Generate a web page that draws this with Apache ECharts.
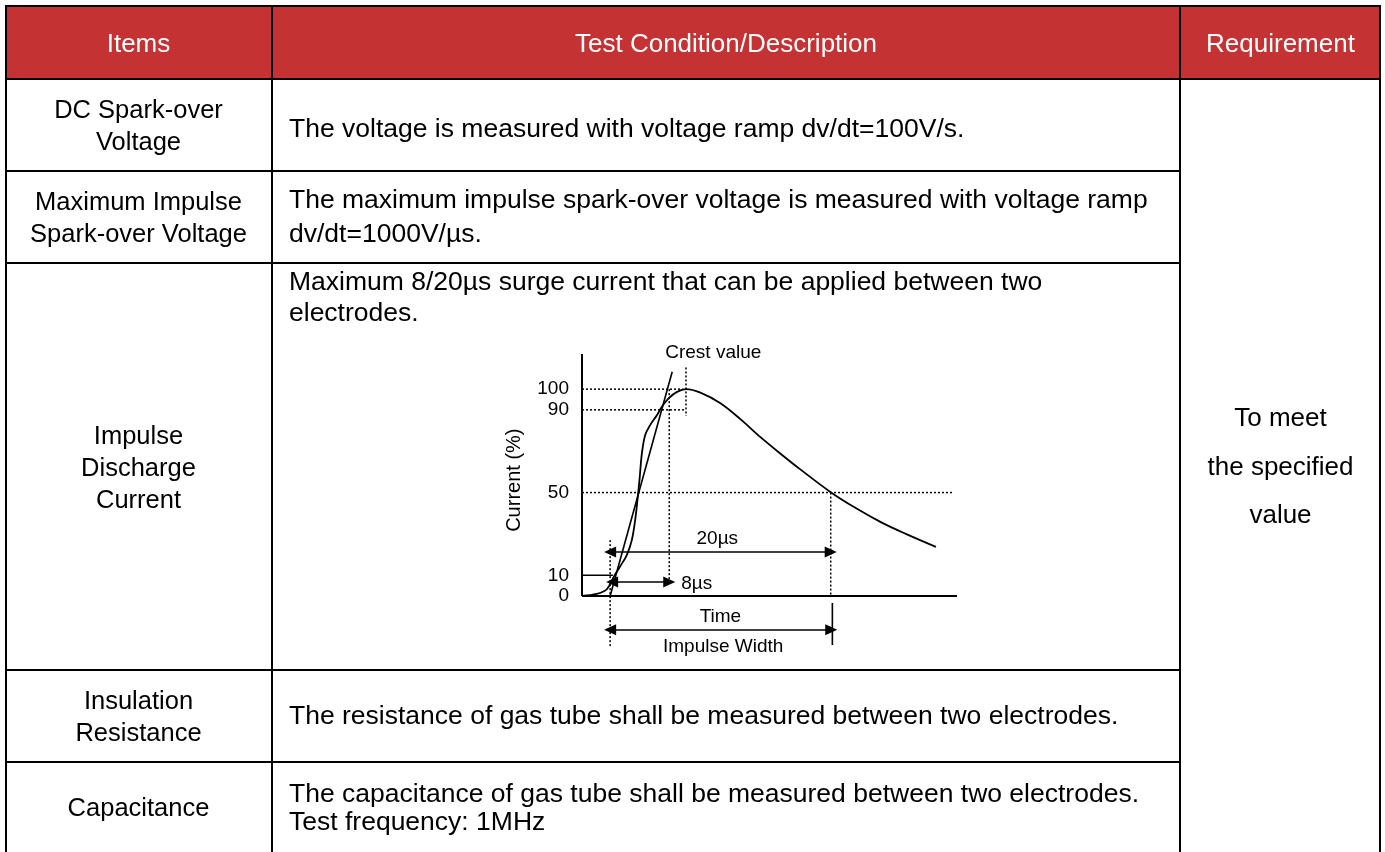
<!DOCTYPE html>
<html><head><meta charset="utf-8">
<script src="https://cdn.jsdelivr.net/npm/echarts@6/dist/echarts.min.js"></script>
<style>html,body{margin:0;padding:0;background:#fff}#c{width:1385px;height:852px}</style>
</head><body><div id="c"></div>
<script>
// ---- table content ----
const headers = ['Items', 'Test Condition/Description', 'Requirement'];
const itemLines = [
  ['DC Spark-over', 'Voltage'],
  ['Maximum Impulse', 'Spark-over Voltage'],
  ['Impulse', 'Discharge', 'Current'],
  ['Insulation', 'Resistance'],
  ['Capacitance']
];
const descLines = [
  ['The voltage is measured with voltage ramp dv/dt=100V/s.'],
  ['The maximum impulse spark-over voltage is measured with voltage ramp', 'dv/dt=1000V/\u00b5s.'],
  ['Maximum 8/20\u00b5s surge current that can be applied between two', 'electrodes.'],
  ['The resistance of gas tube shall be measured between two electrodes.'],
  ['The capacitance of gas tube shall be measured between two electrodes.', 'Test frequency: 1MHz']
];
const requirementLines = ['To meet', 'the specified', 'value'];

// ---- waveform diagram values (time units, current %) ----
const yTickValues = [0, 10, 50, 90, 100];
const waveTime = [0, 1.33, 2.24, 2.85, 3.45, 4.06, 4.52, 4.82, 5.03, 5.21, 5.43, 5.73, 6.18, 6.79, 7.24, 7.85, 8.61, 9.45,
  10.73, 12.55, 14.36, 16.18, 18.0, 19.82, 22.55, 24.82, 27.09, 29.36, 32.09];
const waveCurrent = [0, 0.97, 3.2, 9.0, 14.2, 19.8, 27.1, 36.7, 46.4, 56.0, 68.9, 77.8, 82.6, 87.4, 91.5, 95.5, 98.7, 100,
  98.3, 93.2, 85.5, 76.8, 68.8, 61.1, 50.2, 42.5, 35.7, 30.0, 23.7];
const frontTime = [2.55, 8.18];
const frontCurrent = [0, 108.4];
const originTime = 2.55;      // O1
const t8End = 7.91;
const crestTime = 9.43;
const halfTime = 22.6;
const axisMaxTime = 34;
const axisMaxCurrent = 117;

const FONT = '"Liberation Sans", Arial, sans-serif';
const DY = 2; // baseline correction for middle-aligned text
const chart = echarts.init(document.getElementById('c'), null, {renderer: 'canvas'});

function seg(a, b, dotted, width) {
  return {
    type: 'line', data: [a, b], symbol: 'none', silent: true, animation: false,
    lineStyle: {color: '#000', width: width || 1.5, type: dotted ? [2, 2] : 'solid'}, z: 3
  };
}

const waveData = waveTime.map((t, i) => [t, waveCurrent[i]]);
const frontData = frontTime.map((t, i) => [t, frontCurrent[i]]);

const series = [
  {type: 'line', data: waveData, smooth: 0.35, symbol: 'none', silent: true, animation: false,
    lineStyle: {color: '#000', width: 1.8}, z: 4},
  {type: 'line', data: frontData, symbol: 'none', silent: true, animation: false,
    lineStyle: {color: '#000', width: 1.6}, z: 4},
  // axes
  Object.assign(seg([0, 0], [axisMaxTime, 0], false, 2), {
    markLine: {
      silent: true, animation: false, symbol: ['triangle', 'triangle'], symbolSize: [11, 12],
      label: {show: false}, emphasis: {disabled: true},
      lineStyle: {color: '#000', width: 1.5, type: 'solid'},
      itemStyle: {color: '#000'},
      data: [
        [{coord: [originTime, 21.3]}, {coord: [halfTime - 0.05, 21.3]}],
        [{coord: [originTime + 0.18, 6.8]}, {coord: [t8End, 6.8]}],
        [{coord: [originTime, -16.4]}, {coord: [halfTime, -16.4]}]
      ]
    }
  }),
  seg([0, 0], [0, axisMaxCurrent], false, 2),
  seg([0, 10], [2.8, 10], false, 1.4),
  seg([halfTime + 0.1, -3.4], [halfTime + 0.1, -23.7], false, 1.6),
  // dotted reference lines
  seg([0, 100], [9.2, 100], true),
  seg([0, 90], [9.36, 90], true),
  seg([crestTime, 110.5], [crestTime, 87], true),
  seg([t8End, 100], [t8End, 6.3], true),
  seg([originTime, 27], [originTime, -24.6], true),
  seg([0, 50], [33.7, 50], true),
  seg([halfTime - 0.05, 50], [halfTime - 0.05, 0], true)
];

const option = {
  backgroundColor: '#fff',
  animation: false,
  grid: {left: 582, top: 354, right: 1385 - 957, bottom: 852 - 658, containLabel: false},
  xAxis: {type: 'value', min: 0, max: axisMaxTime, show: false},
  yAxis: {
    type: 'value', min: -30, max: axisMaxCurrent,
    axisLine: {show: false}, axisTick: {show: false}, splitLine: {show: false},
    axisLabel: {customValues: yTickValues, color: '#000', fontSize: 19, fontFamily: FONT, margin: 13, hideOverlap: false}
  },
  series: series
};
chart.setOption(option);

// ---- table drawing ----
const colX = [5, 272, 1180, 1381];
const rowY = [5, 79, 171, 263, 670, 762, 852];
const g = [];
g.push({type: 'rect', shape: {x: 6, y: 6, width: 1374, height: 73}, style: {fill: '#C43234'}, z: 0});
function hline(y, x1, x2) { g.push({type: 'line', shape: {x1: x1, y1: y, x2: x2, y2: y}, style: {stroke: '#000', lineWidth: 2}, z: 1}); }
function vline(x, y1, y2) { g.push({type: 'line', shape: {x1: x, y1: y1, x2: x, y2: y2}, style: {stroke: '#000', lineWidth: 2}, z: 1}); }
hline(rowY[0] + 1, colX[0], colX[3]);
hline(rowY[1], colX[0], colX[3]);
for (let i = 2; i < rowY.length - 1; i++) hline(rowY[i], colX[0], colX[2]);
vline(colX[0] + 1, rowY[0], 852);
vline(colX[1], rowY[0], 852);
vline(colX[2], rowY[0], 852);
vline(colX[3] - 1, rowY[0], 852);

function txt(s, x, y, size, align, color) {
  g.push({type: 'text', z: 2, silent: true, style: {text: s, x: x, y: y + DY, fill: color || '#000',
    font: size + 'px ' + FONT, align: align || 'center', verticalAlign: 'middle'}});
}
// header
headers.forEach((h, i) => txt(h, (colX[i] + colX[i + 1]) / 2, 43, 26, 'center', '#fff'));
// body rows
const itemLH = 32;
itemLines.forEach((lines, r) => {
  const cy = (rowY[r + 1] + rowY[r + 2]) / 2;
  lines.forEach((s, k) => txt(s, (colX[0] + colX[1]) / 2, cy + (k - (lines.length - 1) / 2) * itemLH, 25.5));
});
const descCenters = [127.5, 215.5, null, 714.5, 807];
descLines.forEach((lines, r) => {
  if (r === 2) {
    lines.forEach((s, k) => txt(s, 289, 281 + k * 31, 26.5, 'left'));
  } else {
    const cy = descCenters[r];
    lines.forEach((s, k) => txt(s, 289, cy + (k - (lines.length - 1) / 2) * (r === 4 ? 28 : 34), 26.5, 'left'));
  }
});
requirementLines.forEach((s, k) => txt(s, (colX[2] + colX[3]) / 2, 417 + k * 48.5, 26));

// diagram annotation labels positioned via the chart's scales
function dtxt(s, t, v, size, align, rot) {
  const p = chart.convertToPixel({gridIndex: 0}, [t, v]);
  const el = {type: 'text', z: 5, silent: true, x: p[0] + (rot ? DY : 0), y: p[1] + (rot ? 0 : DY),
    style: {text: s, x: 0, y: 0, fill: '#000', font: size + 'px ' + FONT, align: align || 'center', verticalAlign: 'middle'}};
  if (rot) el.rotation = rot;
  g.push(el);
}
dtxt('Crest value', 11.9, 118.4, 19);
dtxt('20\u00b5s', 12.27, 28.5, 19);
dtxt('8\u00b5s', 9.0, 6.8, 19, 'left');
dtxt('Time', 12.55, -9.2, 19);
dtxt('Impulse Width', 12.8, -23.7, 19);
dtxt('Current (%)', -6.27, 56, 20, 'center', Math.PI / 2);

chart.setOption({graphic: {elements: g}});
</script></body></html>
